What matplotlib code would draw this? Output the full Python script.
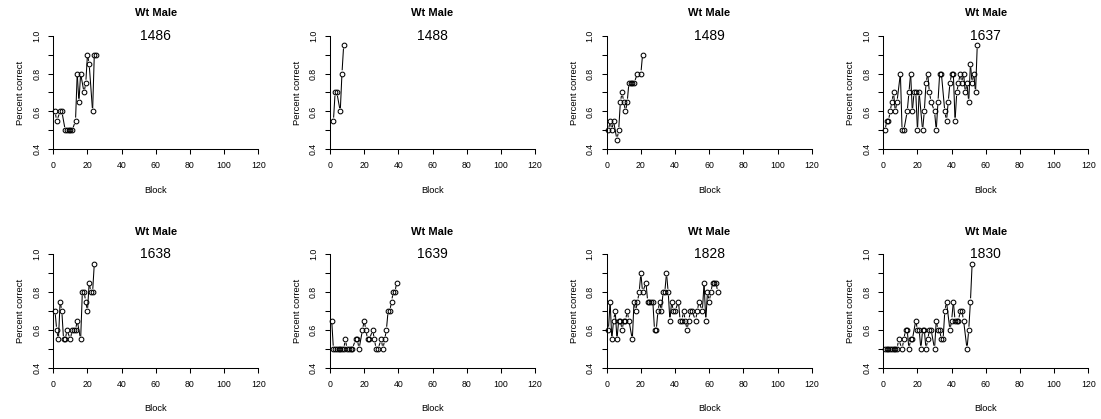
import matplotlib
matplotlib.use("Agg")
import matplotlib.pyplot as plt
import numpy as np
from matplotlib.collections import LineCollection

plt.rcParams['font.family'] = ['Liberation Sans', 'DejaVu Sans']

group = "Wt Male"
ids = ["1486", "1488", "1489", "1637", "1638", "1639", "1828", "1830"]

blk_1486 = [1, 2, 4, 5, 7, 8, 9, 10, 11, 13, 14, 15, 16, 18, 19, 20, 21, 23, 24, 25]
pc_1486 = [0.6, 0.55, 0.6, 0.6, 0.5, 0.5, 0.5, 0.5, 0.5, 0.55, 0.8, 0.65, 0.8, 0.7, 0.75, 0.9, 0.85, 0.6, 0.9, 0.9]

blk_1488 = [2, 3, 4, 6, 7, 8]
pc_1488 = [0.55, 0.7, 0.7, 0.6, 0.8, 0.95]

blk_1489 = [1, 2, 3, 4, 6, 7, 8, 9, 10, 11, 12, 13, 14, 15, 16, 18, 20, 21]
pc_1489 = [0.5, 0.55, 0.5, 0.55, 0.45, 0.5, 0.65, 0.7, 0.65, 0.6, 0.65, 0.75, 0.75, 0.75, 0.75, 0.8, 0.8, 0.9]

blk_1637 = [1, 2, 3, 4, 5, 6, 7, 8, 10, 11, 12, 14, 15, 16, 17, 18, 19, 20, 21, 23, 24, 25, 26, 27, 28,
            30, 31, 32, 33, 34, 36, 37, 38, 39, 40, 41, 42, 43, 44, 45, 46, 47, 48, 49, 50, 51, 52, 53, 54, 55]
pc_1637 = [0.5, 0.55, 0.55, 0.6, 0.65, 0.7, 0.6, 0.65, 0.8, 0.5, 0.5, 0.6, 0.7, 0.8, 0.6, 0.7, 0.7, 0.5, 0.7,
           0.5, 0.6, 0.75, 0.8, 0.7, 0.65, 0.6, 0.5, 0.65, 0.8, 0.8, 0.6, 0.55, 0.65, 0.75, 0.8, 0.8, 0.55,
           0.7, 0.75, 0.8, 0.75, 0.8, 0.7, 0.75, 0.65, 0.85, 0.75, 0.8, 0.7, 0.95]

blk_1638 = [1, 2, 3, 4, 5, 6, 7, 8, 10, 11, 12, 13, 14, 16, 17, 18, 19, 20, 21, 22, 23, 24]
pc_1638 = [0.7, 0.6, 0.55, 0.75, 0.7, 0.55, 0.55, 0.6, 0.55, 0.6, 0.6, 0.6, 0.65, 0.55, 0.8, 0.8, 0.75, 0.7,
           0.85, 0.8, 0.8, 0.95]

blk_1639 = [1, 2, 3, 4, 5, 6, 7, 8, 9, 10, 11, 12, 13, 15, 16, 17, 19, 20, 21, 22, 23, 25, 26, 27, 28,
            30, 31, 32, 33, 34, 35, 36, 37, 38, 39]
pc_1639 = [0.65, 0.5, 0.5, 0.5, 0.5, 0.5, 0.5, 0.5, 0.55, 0.5, 0.5, 0.5, 0.5, 0.55, 0.55, 0.5, 0.6, 0.65,
           0.6, 0.55, 0.55, 0.6, 0.55, 0.5, 0.5, 0.55, 0.5, 0.55, 0.6, 0.7, 0.7, 0.75, 0.8, 0.8, 0.85]

blk_1828 = [1, 2, 3, 4, 5, 6, 7, 8, 9, 10, 11, 12, 13, 15, 16, 17, 18, 19, 20, 21, 23, 24, 25, 26, 27, 28,
            29, 30, 31, 32, 33, 34, 35, 36, 37, 38, 39, 40, 42, 43, 44, 45, 46, 47, 48, 49, 50, 52, 53, 54,
            56, 57, 58, 59, 60, 61, 62, 63, 64, 65]
pc_1828 = [0.6, 0.75, 0.55, 0.65, 0.7, 0.55, 0.65, 0.65, 0.6, 0.65, 0.65, 0.7, 0.65, 0.55, 0.75, 0.7, 0.75,
           0.8, 0.9, 0.8, 0.85, 0.75, 0.75, 0.75, 0.75, 0.6, 0.6, 0.7, 0.75, 0.7, 0.8, 0.8, 0.9, 0.8, 0.65,
           0.75, 0.7, 0.7, 0.75, 0.65, 0.65, 0.7, 0.65, 0.6, 0.65, 0.7, 0.7, 0.65, 0.7, 0.75, 0.7, 0.85,
           0.65, 0.8, 0.75, 0.8, 0.85, 0.85, 0.85, 0.8]

blk_1830 = [1, 2, 3, 4, 5, 6, 7, 8, 9, 11, 12, 13, 14, 15, 16, 17, 19, 20, 21, 22, 23, 24, 25, 26, 27, 28,
            30, 31, 32, 33, 34, 35, 36, 37, 39, 40, 41, 42, 43, 44, 45, 46, 47, 49, 50, 51, 52]
pc_1830 = [0.5, 0.5, 0.5, 0.5, 0.5, 0.5, 0.5, 0.5, 0.55, 0.5, 0.55, 0.6, 0.6, 0.5, 0.55, 0.55, 0.65, 0.6,
           0.6, 0.5, 0.6, 0.6, 0.5, 0.55, 0.6, 0.6, 0.5, 0.65, 0.6, 0.6, 0.55, 0.55, 0.7, 0.75, 0.6, 0.65,
           0.75, 0.65, 0.65, 0.65, 0.7, 0.7, 0.65, 0.5, 0.6, 0.75, 0.95]

blocks = [blk_1486, blk_1488, blk_1489, blk_1637, blk_1638, blk_1639, blk_1828, blk_1830]
pcs = [pc_1486, pc_1488, pc_1489, pc_1637, pc_1638, pc_1639, pc_1828, pc_1830]

W, H = 1101, 419
fig = plt.figure(figsize=(W / 100, H / 100), dpi=100)

lefts = [53.3, 330.0, 606.7, 883.3]  # pixel left edge of each column
tops = [35.7, 254.3]                  # pixel top edge of each row
aw, ah = 205.0, 113.6


# R style type="b": segments stop short of the points
def draw_b(ax, x, y, gap=3.3):
    pts = ax.transData.transform(np.column_stack([x, y]))
    inv = ax.transData.inverted()
    segs = []
    for p0, p1 in zip(pts[:-1], pts[1:]):
        d = p1 - p0
        L = np.hypot(d[0], d[1])
        if L <= 2 * gap:
            continue
        u = d / L
        segs.append(inv.transform(np.array([p0 + u * gap, p1 - u * gap])))
    ax.add_collection(LineCollection(segs, colors='black', linewidths=0.75, clip_on=False))
    ax.plot(x, y, 'o', mfc='none', mec='black', ms=3.4, mew=0.75, clip_on=False)


for i in range(8):
    r, c = divmod(i, 4)
    ax = fig.add_axes([lefts[c] / W, 1 - (tops[r] + ah) / H, aw / W, ah / H])
    ax.set_xlim(0, 120)
    ax.set_ylim(0.4, 1.0)
    for s in ['top', 'right']:
        ax.spines[s].set_visible(False)
    for s in ['left', 'bottom']:
        ax.spines[s].set_linewidth(0.75)
    ax.set_xticks(np.arange(0, 121, 20))
    ax.set_yticks([0.4, 0.5, 0.6, 0.7, 0.8, 0.9, 1.0])
    ax.set_yticklabels(['0.4', '', '0.6', '', '0.8', '', '1.0'], rotation=90, va='center')
    ax.tick_params(direction='out', length=3.6, width=0.75, labelsize=6.3, pad=5)
    draw_b(ax, blocks[i], pcs[i])
    ax.text(60, 1.0, ids[i], ha='center', va='center', fontsize=10)
    ax.text(0.5, 1 + 22.7 / ah, group, transform=ax.transAxes, ha='center', va='center',
            fontsize=8, fontweight='bold')
    ax.text(0.5, -40.7 / ah, "Block", transform=ax.transAxes, ha='center', va='center', fontsize=6.7)
    ax.text(-32.6 / aw, 0.5, "Percent correct", transform=ax.transAxes, ha='center', va='center',
            rotation=90, fontsize=6.8)

fig.savefig("out.png", dpi=100)
